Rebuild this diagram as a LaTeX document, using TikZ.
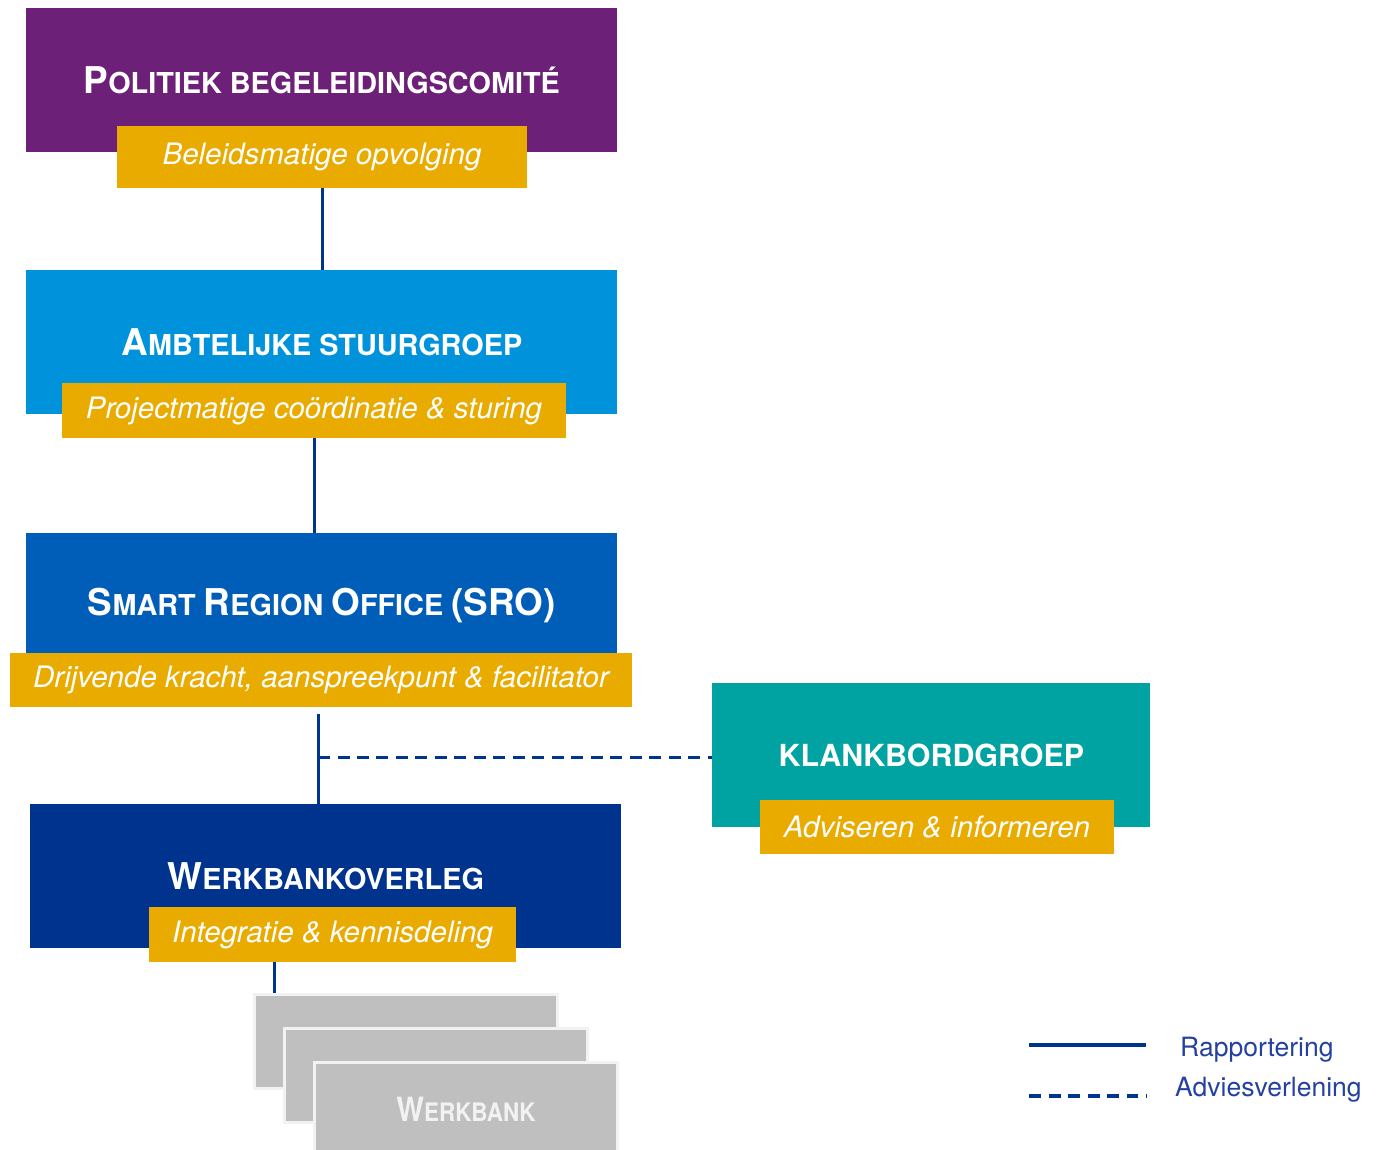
\documentclass[tikz,border=0pt]{standalone}
\usepackage{fontspec}
\setmainfont{TeX Gyre Heros}
\newfontfamily\condfont[FakeStretch=0.88]{TeX Gyre Heros}
\usetikzlibrary{calc}

\definecolor{polpurple}{HTML}{6C2077}
\definecolor{ambtblue}{HTML}{0093DB}
\definecolor{sroblue}{HTML}{005EB8}
\definecolor{wbodark}{HTML}{00338D}
\definecolor{klankteal}{HTML}{00A3A1}
\definecolor{tagyellow}{HTML}{EAAB00}
\definecolor{wbgrey}{HTML}{BFBFBF}
\definecolor{wbedge}{HTML}{F2F2F2}
\definecolor{linkblue}{HTML}{00358F}
\definecolor{legblue}{HTML}{2541A0}

% fake small caps: big first letter, rest smaller
\newcommand\fakesc[2]{{\fontsize{21}{22}\selectfont #1}{\fontsize{16.4}{18}\selectfont #2}}

\begin{document}
\begin{tikzpicture}[x=0.02cm, y=-0.02cm,
    box/.style={anchor=north west, inner sep=0pt, minimum width=11.82cm,
        minimum height=2.88cm, text=white, font=\bfseries\fontsize{16.4}{18}\selectfont},
    tagbox/.style={fill=tagyellow, inner sep=0pt, text=white,
        font=\itshape\fontsize{16.8}{18}\selectfont},
    wbbox/.style={anchor=north west, fill=wbgrey, draw=wbedge, line width=0.06cm,
        minimum width=6.06cm, minimum height=1.88cm, inner sep=0pt,
        text=wbedge, font=\condfont\bfseries},
    rapport/.style={draw=linkblue, line width=0.06cm},
    advies/.style={draw=linkblue, line width=0.06cm, dash pattern=on 0.24cm off 0.15cm},
    legtext/.style={anchor=west, text=legblue, font=\fontsize{15.1}{17}\selectfont}]

    \useasboundingbox (0,0) rectangle (1388,1149);

    % Main boxes
    \node[box, fill=polpurple] (pol) at (26,8) {\fakesc{P}{OLITIEK BEGELEIDINGSCOMIT\'E}};
    \node[box, fill=ambtblue] (ambt) at (26,270) {\fakesc{A}{MBTELIJKE STUURGROEP}};
    \node[box, fill=sroblue] (sro) at (26,533) {\fakesc{S}{MART} \fakesc{R}{EGION} \fakesc{O}{FFICE} {\fontsize{21}{22}\selectfont(SRO)}};
    \node[box, fill=wbodark] (wbo) at (30,804) {\fakesc{W}{ERKBANKOVERLEG}};
    \node[box, fill=klankteal, minimum width=8.76cm] (klank) at (712,683) {{\fontsize{17.3}{18}\selectfont KLANKBORDGROEP}};

    % Yellow tags
    \node[tagbox, minimum width=8.2cm, minimum height=1.24cm] (pol-tag) at (322,157) {Beleidsmatige opvolging};
    \node[tagbox, minimum width=10.08cm, minimum height=1.1cm] (ambt-tag) at (314,410.5) {Projectmatige co\"ordinatie \& sturing};
    \node[tagbox, minimum width=12.44cm, minimum height=1.08cm] (sro-tag) at (321,680) {Drijvende kracht, aanspreekpunt \& facilitator};
    \node[tagbox, minimum width=7.34cm, minimum height=1.1cm] (wbo-tag) at (332.5,934.5) {Integratie \& kennisdeling};
    \node[tagbox, minimum width=7.08cm, minimum height=1.08cm] (klank-tag) at (937,827) {Adviseren \& informeren};

    % Werkbanken
    \node[wbbox] (wb1) at (253,993) {};
    \node[wbbox] (wb2) at (283,1027) {};
    \node[wbbox] (wb3) at (313,1061) {{\fontsize{19}{20}\selectfont W}{\fontsize{14.5}{16}\selectfont ERKBANK}};

    % Connectors
    \coordinate (split) at (318,757);
    \coordinate (wbdrop) at (274,993);
    \draw[rapport] (pol-tag.south) -- (ambt.north -| pol-tag.south);
    \draw[rapport] (ambt-tag.south) -- (sro.north -| ambt-tag.south);
    \draw[rapport] ($(sro-tag.south -| split)+(0,7)$) -- (wbo.north -| split);
    \draw[advies] (split) -- (klank.west |- split);
    \draw[rapport] (wbo-tag.south -| wbdrop) -- (wbdrop);

    % Legend
    \coordinate (leg1a) at (1029,1045);
    \coordinate (leg1b) at (1146,1045);
    \coordinate (leg2a) at (1029,1096);
    \coordinate (leg2b) at (1146,1096);
    \draw[rapport, line width=0.08cm] (leg1a) -- (leg1b);
    \draw[advies, line width=0.08cm] (leg2a) -- (leg2b);
    \node[legtext] (leg1txt) at (1174,1050) {Rapportering};
    \node[legtext] (leg2txt) at (1169,1090) {Adviesverlening};

\end{tikzpicture}
\end{document}
